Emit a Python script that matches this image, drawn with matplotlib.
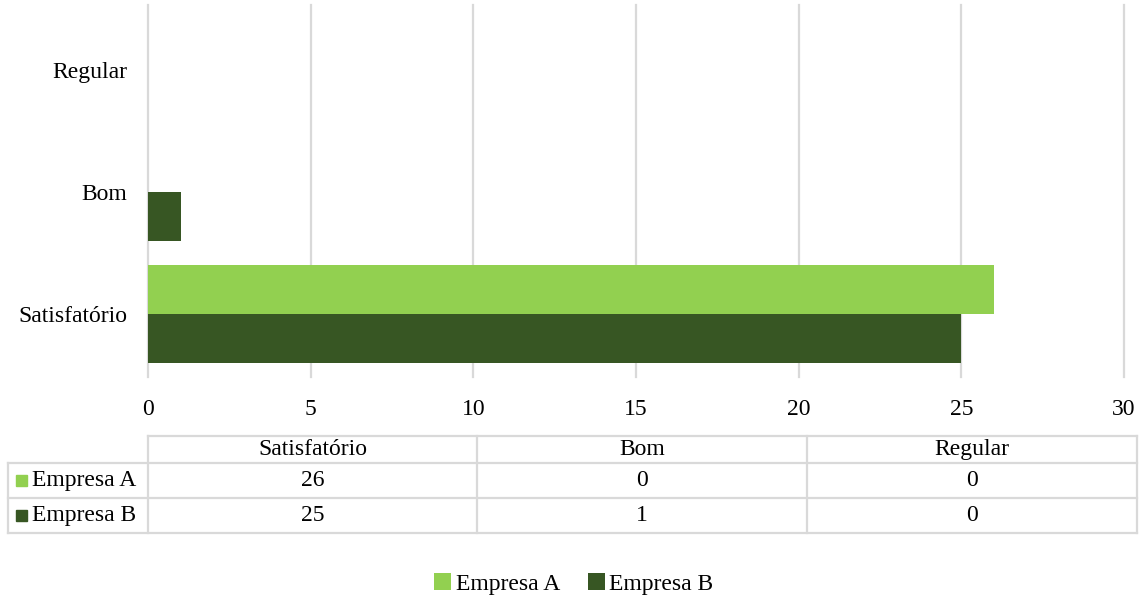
import numpy as np
import matplotlib.pyplot as plt
from matplotlib.patches import Rectangle

# Data
categories = ['Satisfatório', 'Bom', 'Regular']
empresa_a = [26, 0, 0]
empresa_b = [25, 1, 0]
series_names = ['Empresa A', 'Empresa B']
colors = ['#92D050', '#375623']
xticks = [0, 5, 10, 15, 20, 25, 30]

plt.rcParams['font.family'] = ['Liberation Serif', 'DejaVu Serif']
W, H = 1148, 599
fig = plt.figure(figsize=(W / 100, H / 100), dpi=100)

def px_rect(x0, y0, x1, y1):
    return [x0 / W, 1 - y1 / H, (x1 - x0) / W, (y1 - y0) / H]

# Bar chart
ax = fig.add_axes(px_rect(148, 9, 1124, 375))
y = np.arange(len(categories))
h = 0.4
ax.barh(y + h / 2, empresa_a, height=h, color=colors[0], label=series_names[0], zorder=3)
ax.barh(y - h / 2, empresa_b, height=h, color=colors[1], label=series_names[1], zorder=3)
ax.set_xlim(0, 30)
ax.set_ylim(-0.5, 2.5)
ax.set_xticks(xticks)
ax.set_yticks(y)
ax.set_yticklabels(categories)
ax.tick_params(axis='both', length=0, labelsize=17, colors='black')
ax.tick_params(axis='x', pad=17)
ax.tick_params(axis='y', pad=15)
# gridlines (unclipped so the one at 0 is full width)
for xt in xticks:
    ax.plot([xt, xt], [-0.52, 2.53], color='#D9D9D9', lw=1.6, zorder=0, clip_on=False)
for s in ax.spines.values():
    s.set_visible(False)

# Data table
tab = fig.add_axes([0, 0, 1, 1])
tab.set_xlim(0, W)
tab.set_ylim(H, 0)
tab.axis('off')
gc = '#D9D9D9'
col_x = [148, 477, 807, 1137]
row_y = [436, 463, 498, 533]
left = 8
# horizontal lines
tab.plot([col_x[0], col_x[-1]], [row_y[0], row_y[0]], color=gc, lw=1.6)
for ry in row_y[1:]:
    tab.plot([left, col_x[-1]], [ry, ry], color=gc, lw=1.6)
# vertical lines
tab.plot([left, left], [row_y[1], row_y[-1]], color=gc, lw=1.6)
for cx in col_x:
    tab.plot([cx, cx], [row_y[0], row_y[-1]], color=gc, lw=1.6)
for j, cat in enumerate(categories):
    xc = (col_x[j] + col_x[j + 1]) / 2
    tab.text(xc, (row_y[0] + row_y[1]) / 2, cat, ha='center', va='center', fontsize=17)
for i, vals in enumerate([empresa_a, empresa_b]):
    yc = (row_y[i + 1] + row_y[i + 2]) / 2
    tab.add_patch(Rectangle((16, yc - 5.5), 11, 11, color=colors[i]))
    tab.text(32, yc, series_names[i], ha='left', va='center', fontsize=17)
    for j, v in enumerate(vals):
        xc = (col_x[j] + col_x[j + 1]) / 2
        tab.text(xc, yc, str(v), ha='center', va='center', fontsize=17)

# Legend
handles, labels = ax.get_legend_handles_labels()
fig.legend(handles, labels, loc='center', bbox_to_anchor=(0.5, 1 - 584 / H),
           ncol=2, frameon=False, fontsize=17, handlelength=0.7, handleheight=0.7,
           handletextpad=0.2, columnspacing=1.2)

fig.savefig('out.png', dpi=100)
